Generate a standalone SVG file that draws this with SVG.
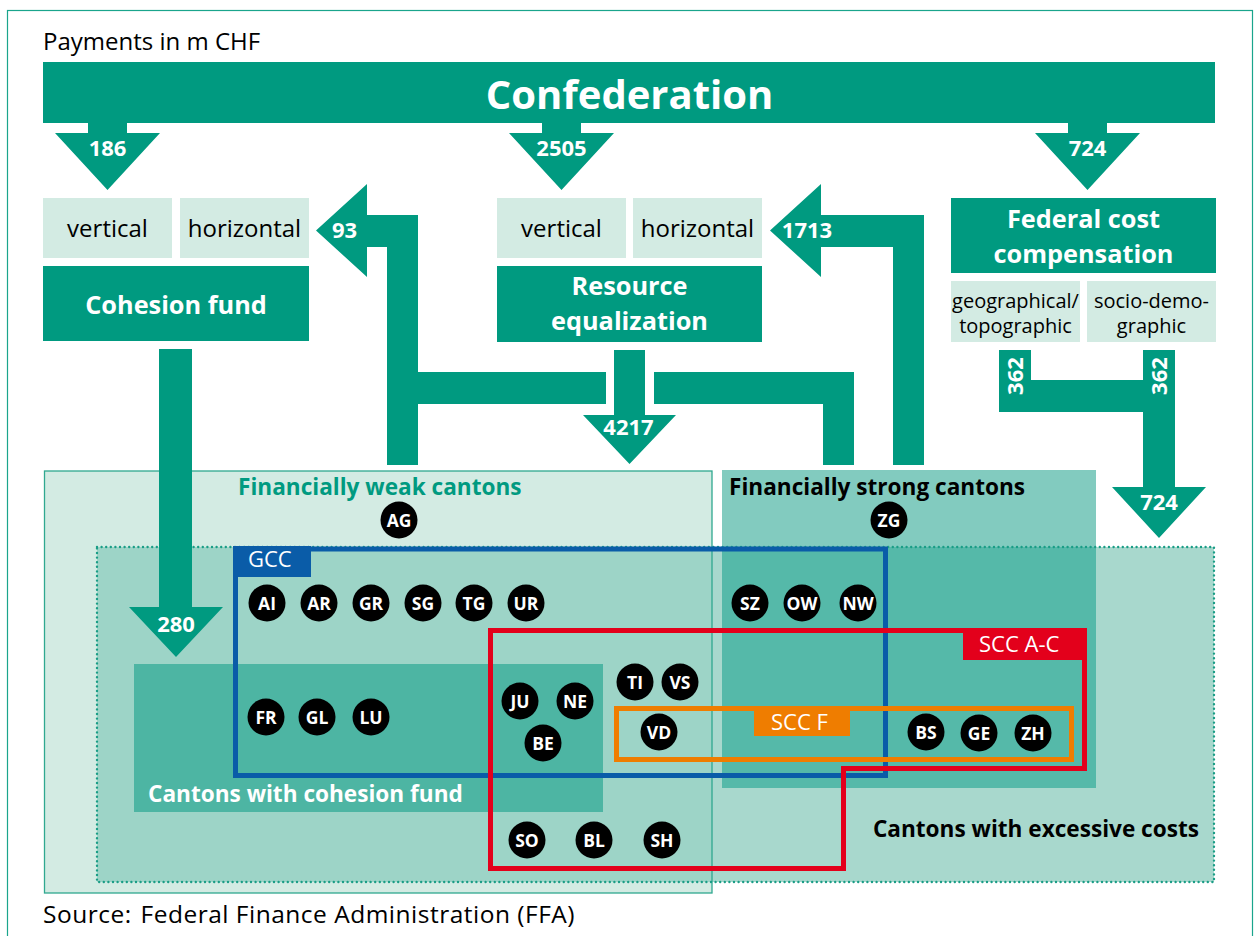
<svg xmlns="http://www.w3.org/2000/svg" width="1259" height="936" viewBox="0 0 1259 936">
<style>
  text { font-family: "Open Sans", "Noto Sans", "Liberation Sans", sans-serif; }
  .teal { fill: #009a80; }
  .light { fill: #d3ebe3; }
  .num { fill: #ffffff; font-weight: bold; font-size: 22px; text-anchor: middle; }
  .sub { fill: #000000; font-size: 24px; text-anchor: middle; }
  .head { fill: #ffffff; font-weight: bold; font-size: 25.3px; text-anchor: middle; }
  .small { fill: #000000; font-size: 20px; text-anchor: middle; }
  .dot { fill: #000000; }
  .ct { fill: #ffffff; font-weight: bold; font-size: 17.5px; text-anchor: middle; }
  .lbl { fill: #ffffff; font-size: 22px; }
  .grp { font-weight: bold; font-size: 22.6px; }
</style>
<rect x="7.5" y="10.5" width="1245" height="960" fill="#ffffff" stroke="#1aa58c" stroke-width="1.2"/>
<text x="43" y="50" font-size="24" fill="#000">Payments in m CHF</text>

<!-- canton group areas -->
<g id="areas">
  <rect id="weak-area" x="44.5" y="471" width="667.5" height="422" fill="#d3ebe3"/>
  <rect id="strong-area" x="722" y="470" width="374" height="318" fill="#82cbbf"/>
  <rect x="97" y="547" width="1117" height="335" fill="#a8d8cd"/>
  <rect x="97" y="547" width="615" height="335" fill="#9dd4c7"/>
  <rect x="722" y="547" width="374" height="241" fill="#55b9a9"/>
  <rect x="44.5" y="471" width="667.5" height="422" fill="none" stroke="#2fa890" stroke-width="1.3"/>
  <rect x="97" y="547" width="1117" height="335" fill="none" stroke="#1a9d86" stroke-width="2.4" stroke-dasharray="0 4.6" stroke-linecap="round"/>
  <rect id="cohesion-area" x="134" y="664" width="469" height="148" fill="#4db5a3"/>
  <text x="238" y="495" class="grp" font-size="22.3" fill="#009a80">Financially weak cantons</text>
  <text x="729" y="495" class="grp" fill="#000">Financially strong cantons</text>
  <text x="148" y="802" class="grp" font-size="23" fill="#ffffff">Cantons with cohesion fund</text>
  <text x="1199" y="837" class="grp" fill="#000" text-anchor="end">Cantons with excessive costs</text>
</g>

<!-- classification frames -->
<g id="gcc">
  <rect x="235.5" y="549" width="650" height="226.5" fill="none" stroke="#0a5ca8" stroke-width="5"/>
  <rect x="233" y="546" width="78" height="31" fill="#0a5ca8"/>
  <text x="248" y="567" class="lbl">GCC</text>
</g>
<g id="scc-ac">
  <path d="M490.5,630.5 H1084.5 V768.5 H843.5 V868.5 H490.5 Z" fill="none" stroke="#e3001b" stroke-width="5"/>
  <rect x="963" y="628" width="124" height="32" fill="#e3001b"/>
  <text x="979" y="652" class="lbl" font-size="24">SCC A-C</text>
</g>
<g id="scc-f">
  <rect x="616.5" y="708.5" width="455" height="51" fill="none" stroke="#ef7d00" stroke-width="5"/>
  <rect x="754" y="709" width="96" height="27" fill="#ef7d00"/>
  <text x="771" y="729.5" class="lbl" font-size="23">SCC F</text>
</g>

<!-- top nodes -->
<g id="confederation">
  <rect x="43" y="62" width="1172" height="61" class="teal"/>
  <text x="629.5" y="109" fill="#fff" font-weight="bold" font-size="40" text-anchor="middle">Confederation</text>
</g>
<g id="cohesion-fund">
  <rect x="43" y="198" width="129" height="60" class="light"/>
  <text x="107.5" y="237" class="sub">vertical</text>
  <rect x="180" y="198" width="129" height="60" class="light"/>
  <text x="244.5" y="237" class="sub">horizontal</text>
  <rect x="43" y="266" width="266" height="75" class="teal"/>
  <text x="176" y="314" class="head" font-size="26.5">Cohesion fund</text>
</g>
<g id="resource-equalization">
  <rect x="497" y="198" width="129" height="60" class="light"/>
  <text x="561.5" y="237" class="sub">vertical</text>
  <rect x="633" y="198" width="129" height="60" class="light"/>
  <text x="697.5" y="237" class="sub">horizontal</text>
  <rect x="497" y="266" width="265" height="76" class="teal"/>
  <text x="629.5" y="295" class="head">Resource</text>
  <text x="629.5" y="329.5" class="head">equalization</text>
</g>
<g id="federal-cost-compensation">
  <rect x="951" y="198" width="265" height="75" class="teal"/>
  <text x="1083.5" y="228" class="head">Federal cost</text>
  <text x="1083.5" y="262.5" class="head">compensation</text>
  <rect x="951" y="281" width="129" height="61" class="light"/>
  <text x="1015.5" y="308" class="small">geographical/</text>
  <text x="1015.5" y="333" class="small">topographic</text>
  <rect x="1087" y="281" width="129" height="61" class="light"/>
  <text x="1151.5" y="308" class="small">socio-demo-</text>
  <text x="1151.5" y="333" class="small">graphic</text>
</g>

<!-- connectors (flows) -->
<g id="connectors" class="teal">
  <polygon points="88,122 127,122 127,133 160,133 107.5,190 55,133 88,133"/>
  <polygon points="542,122 581,122 581,133 614,133 561.5,190 509,133 542,133"/>
  <polygon points="1068,122 1107,122 1107,133 1140,133 1087.5,190 1035,133 1068,133"/>
  <polygon points="316,230.5 367,184 367,215 418,215 418,465 387,465 387,247 367,247 367,277"/>
  <polygon points="770,230.5 821,184 821,215 924,215 924,465 893,465 893,247 821,247 821,277"/>
  <rect x="418" y="372" width="188" height="32"/>
  <polygon points="614,350 645,350 645,415 676,415 629.5,464 583,415 614,415"/>
  <polygon points="654,372 854,372 854,465 823,465 823,404 654,404"/>
  <polygon points="159,349 192,349 192,607 223,607 176,657 129,607 159,607"/>
  <polygon points="999,350 1031,350 1031,380 1143,380 1143,350 1175,350 1175,487 1206,487 1159,538 1112,487 1143,487 1143,412 999,412"/>
</g>
<g id="flow-labels">
  <text x="107.5" y="156" class="num">186</text>
  <text x="561.5" y="156" class="num">2505</text>
  <text x="1087.5" y="156" class="num">724</text>
  <text x="344.5" y="238" class="num">93</text>
  <text x="807" y="238" class="num">1713</text>
  <text x="628.5" y="435" class="num">4217</text>
  <text x="176" y="632" class="num">280</text>
  <text x="1159" y="510" class="num">724</text>
  <text transform="translate(1023,376) rotate(-90)" class="num">362</text>
  <text transform="translate(1167,376) rotate(-90)" class="num">362</text>
</g>

<!-- cantons -->
<g id="cantons">
  <g id="AG"><circle cx="399" cy="520" r="18.5" class="dot"/><text x="399" y="526.5" class="ct">AG</text></g>
  <g id="ZG"><circle cx="889" cy="520" r="18.5" class="dot"/><text x="889" y="526.5" class="ct">ZG</text></g>
  <g id="AI"><circle cx="267" cy="603" r="18.5" class="dot"/><text x="267" y="609.5" class="ct">AI</text></g>
  <g id="AR"><circle cx="319" cy="603" r="18.5" class="dot"/><text x="319" y="609.5" class="ct">AR</text></g>
  <g id="GR"><circle cx="371" cy="603" r="18.5" class="dot"/><text x="371" y="609.5" class="ct">GR</text></g>
  <g id="SG"><circle cx="423" cy="603" r="18.5" class="dot"/><text x="423" y="609.5" class="ct">SG</text></g>
  <g id="TG"><circle cx="474" cy="603" r="18.5" class="dot"/><text x="474" y="609.5" class="ct">TG</text></g>
  <g id="UR"><circle cx="526" cy="603" r="18.5" class="dot"/><text x="526" y="609.5" class="ct">UR</text></g>
  <g id="SZ"><circle cx="750" cy="603" r="18.5" class="dot"/><text x="750" y="609.5" class="ct">SZ</text></g>
  <g id="OW"><circle cx="802" cy="603" r="18.5" class="dot"/><text x="802" y="609.5" class="ct">OW</text></g>
  <g id="NW"><circle cx="858" cy="603" r="18.5" class="dot"/><text x="858" y="609.5" class="ct">NW</text></g>
  <g id="FR"><circle cx="266" cy="717" r="18.5" class="dot"/><text x="266" y="723.5" class="ct">FR</text></g>
  <g id="GL"><circle cx="317" cy="717" r="18.5" class="dot"/><text x="317" y="723.5" class="ct">GL</text></g>
  <g id="LU"><circle cx="371" cy="717" r="18.5" class="dot"/><text x="371" y="723.5" class="ct">LU</text></g>
  <g id="JU"><circle cx="520" cy="701" r="18.5" class="dot"/><text x="520" y="707.5" class="ct">JU</text></g>
  <g id="NE"><circle cx="575" cy="701" r="18.5" class="dot"/><text x="575" y="707.5" class="ct">NE</text></g>
  <g id="BE"><circle cx="543" cy="743" r="18.5" class="dot"/><text x="543" y="749.5" class="ct">BE</text></g>
  <g id="TI"><circle cx="635" cy="682" r="18.5" class="dot"/><text x="635" y="688.5" class="ct">TI</text></g>
  <g id="VS"><circle cx="680" cy="682" r="18.5" class="dot"/><text x="680" y="688.5" class="ct">VS</text></g>
  <g id="VD"><circle cx="659" cy="732" r="18.5" class="dot"/><text x="659" y="738.5" class="ct">VD</text></g>
  <g id="BS"><circle cx="926" cy="732" r="18.5" class="dot"/><text x="926" y="738.5" class="ct">BS</text></g>
  <g id="GE"><circle cx="979" cy="733" r="18.5" class="dot"/><text x="979" y="739.5" class="ct">GE</text></g>
  <g id="ZH"><circle cx="1033" cy="733" r="18.5" class="dot"/><text x="1033" y="739.5" class="ct">ZH</text></g>
  <g id="SO"><circle cx="527" cy="840" r="18.5" class="dot"/><text x="527" y="846.5" class="ct">SO</text></g>
  <g id="BL"><circle cx="594" cy="840" r="18.5" class="dot"/><text x="594" y="846.5" class="ct">BL</text></g>
  <g id="SH"><circle cx="662" cy="840" r="18.5" class="dot"/><text x="662" y="846.5" class="ct">SH</text></g>
</g>

<text x="43" y="923" font-size="24.5" letter-spacing="0.5" fill="#000"><tspan>Source:</tspan><tspan dx="2"> Federal Finance Administration (FFA)</tspan></text>
</svg>
